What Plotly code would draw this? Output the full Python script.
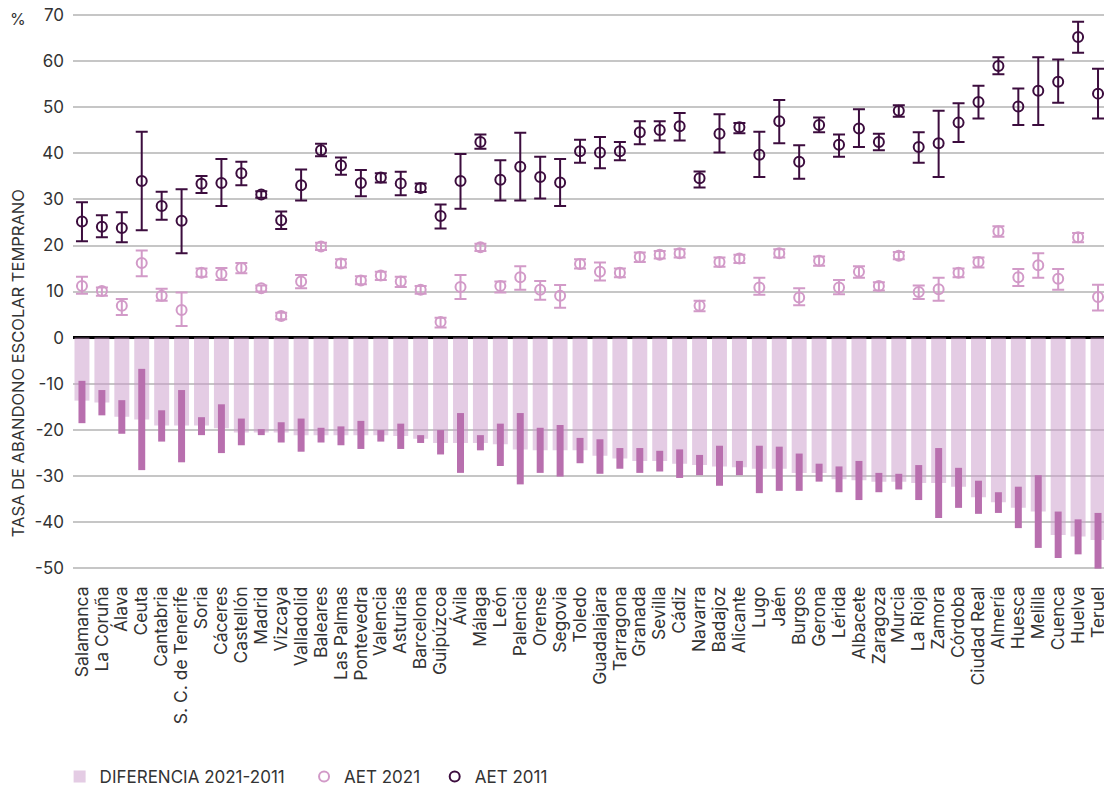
import plotly.graph_objects as go

# Provincias ordenadas por la diferencia 2021-2011
provincias = [
    "Salamanca", "La Coruña", "Álava", "Ceuta", "Cantabria", "S. C. de Tenerife",
    "Soria", "Cáceres", "Castellón", "Madrid", "Vizcaya", "Valladolid", "Baleares",
    "Las Palmas", "Pontevedra", "Valencia", "Asturias", "Barcelona", "Guipúzcoa",
    "Ávila", "Málaga", "León", "Palencia", "Orense", "Segovia", "Toledo",
    "Guadalajara", "Tarragona", "Granada", "Sevilla", "Cádiz", "Navarra", "Badajoz",
    "Alicante", "Lugo", "Jaén", "Burgos", "Gerona", "Lérida", "Albacete", "Zaragoza",
    "Murcia", "La Rioja", "Zamora", "Córdoba", "Ciudad Real", "Almería", "Huesca",
    "Melilla", "Cuenca", "Huelva", "Teruel",
]

# AET 2011 (valor e intervalo)
aet2011 = [25.2, 24.1, 23.8, 34.0, 28.6, 25.4, 33.4, 33.6, 35.7, 31.1, 25.5, 33.1, 40.7,
           37.4, 33.6, 34.8, 33.5, 32.5, 26.4, 34.0, 42.5, 34.3, 37.1, 34.9, 33.7, 40.5,
           40.2, 40.5, 44.6, 45.1, 45.9, 34.6, 44.3, 45.7, 39.7, 47.0, 38.2, 46.2, 41.9,
           45.4, 42.5, 49.3, 41.4, 42.2, 46.7, 51.2, 59.0, 50.2, 53.6, 55.6, 65.3, 53.0]
aet2011_sup = [29.4, 26.6, 27.2, 44.7, 31.7, 32.2, 35.1, 38.8, 38.2, 31.8, 27.4, 36.5, 42.1,
               39.1, 36.4, 35.7, 36.0, 33.5, 28.9, 39.9, 44.1, 38.5, 44.5, 39.3, 38.8, 43.0,
               43.6, 42.5, 47.0, 47.0, 48.8, 36.1, 48.5, 46.6, 44.7, 51.6, 41.8, 47.8, 44.1,
               49.6, 44.3, 50.5, 44.6, 49.3, 50.9, 54.7, 60.9, 54.1, 60.9, 60.4, 68.6, 58.4]
aet2011_inf = [20.9, 21.8, 20.7, 23.3, 25.6, 18.3, 31.4, 28.6, 33.1, 30.4, 23.6, 29.8, 39.4,
               35.4, 30.7, 33.7, 30.9, 31.6, 23.7, 28.0, 41.0, 29.8, 29.8, 30.2, 28.6, 38.0,
               36.8, 38.5, 42.0, 42.8, 42.8, 32.6, 40.2, 44.4, 34.9, 42.2, 34.5, 44.6, 39.3,
               41.4, 40.7, 48.0, 38.0, 34.9, 42.5, 47.6, 57.2, 46.2, 46.2, 51.0, 61.9, 47.6]

# AET 2021 (valor e intervalo)
aet2021 = [11.2, 10.1, 6.9, 16.2, 9.1, 6.0, 14.1, 13.8, 15.1, 10.7, 4.7, 12.2, 19.8,
           16.1, 12.4, 13.5, 12.2, 10.4, 3.4, 11.0, 19.6, 11.2, 13.1, 10.4, 9.1, 16.0,
           14.3, 14.1, 17.5, 18.0, 18.3, 6.9, 16.4, 17.2, 10.9, 18.3, 8.7, 16.7, 10.9,
           14.3, 11.2, 17.8, 9.9, 10.5, 14.1, 16.4, 23.1, 13.1, 15.7, 12.8, 21.8, 8.8]
aet2021_sup = [13.2, 10.9, 8.4, 18.9, 10.6, 9.8, 15.0, 15.1, 16.2, 11.3, 5.4, 13.6, 20.6,
               17.0, 13.3, 14.3, 13.2, 11.2, 4.3, 13.6, 20.4, 12.2, 15.5, 12.3, 11.4, 17.0,
               16.3, 15.0, 18.5, 18.8, 19.2, 8.0, 17.4, 18.0, 13.0, 19.2, 10.7, 17.6, 12.5,
               15.5, 12.0, 18.6, 11.3, 13.0, 15.0, 17.4, 24.2, 14.9, 18.3, 14.9, 22.7, 11.5]
aet2021_inf = [9.5, 9.1, 4.9, 13.3, 8.0, 2.5, 13.2, 12.5, 14.0, 10.0, 4.0, 10.7, 19.0,
               15.2, 11.6, 12.5, 11.0, 9.5, 2.2, 8.4, 18.8, 9.8, 10.4, 8.2, 6.5, 15.0,
               12.4, 13.1, 16.4, 17.2, 17.4, 5.7, 15.4, 16.2, 9.3, 17.4, 7.0, 15.6, 9.4,
               13.0, 10.2, 17.0, 8.4, 8.0, 13.1, 15.2, 21.9, 11.2, 13.0, 10.4, 20.7, 5.9]

# Diferencia 2021-2011 y su intervalo
diferencia = [-13.7, -14.1, -17.2, -17.8, -19.1, -19.1, -19.1, -19.7, -20.6, -20.6, -20.6,
              -21.2, -21.2, -21.2, -21.2, -21.2, -21.4, -22.0, -22.9, -22.9, -22.9, -23.2,
              -24.3, -24.5, -24.5, -24.5, -25.7, -26.3, -26.8, -26.8, -27.4, -27.7, -28.0,
              -28.2, -28.5, -28.5, -29.4, -29.4, -30.8, -31.0, -31.3, -31.3, -31.6, -31.6,
              -32.4, -34.7, -35.8, -37.0, -37.8, -42.9, -43.2, -44.0]
dif_sup = [-9.4, -11.4, -13.6, -6.8, -15.8, -11.4, -17.3, -14.5, -17.6, -19.9, -18.4, -17.6,
           -19.6, -19.3, -18.1, -20.1, -18.7, -21.2, -20.1, -16.4, -21.2, -18.7, -16.4, -19.6,
           -19.0, -21.8, -22.1, -24.0, -24.0, -24.6, -24.3, -25.5, -23.5, -26.8, -23.5, -23.7,
           -25.2, -27.4, -28.0, -26.8, -29.4, -29.6, -27.7, -24.0, -28.3, -31.1, -33.6, -32.4,
           -29.9, -37.8, -39.5, -38.1]
dif_inf = [-18.6, -16.9, -20.9, -28.8, -22.6, -27.1, -21.2, -25.1, -23.4, -21.2, -22.8, -24.8,
           -22.8, -23.4, -24.2, -22.6, -24.2, -22.9, -25.4, -29.4, -24.5, -27.9, -31.9, -29.4,
           -30.2, -27.3, -29.6, -28.5, -29.4, -29.1, -30.5, -29.9, -32.2, -29.9, -33.8, -33.3,
           -33.3, -31.3, -33.6, -35.3, -33.6, -33.0, -35.3, -39.2, -37.0, -38.3, -38.1, -41.4,
           -45.7, -47.9, -47.1, -50.2]

ticks_y = list(range(-50, 71, 10))

FUENTE = "Inter"
GRIS_TEXTO = "#333333"
COLOR_2011 = "#3c0d3e"
COLOR_2021 = "#d29ac8"
NBSP = "\u00a0"

fig = go.Figure()

# Barras claras: diferencia
fig.add_trace(go.Bar(
    x=provincias, y=diferencia, width=0.75,
    marker=dict(color="rgba(201,153,201,0.5)", line=dict(width=0)),
    name="DIFERENCIA 2021-2011" + NBSP * 3,
))

# Barras oscuras: intervalo de la diferencia
fig.add_trace(go.Bar(
    x=provincias, base=dif_sup,
    y=[i - s for i, s in zip(dif_inf, dif_sup)], width=0.35,
    marker=dict(color="#b86fae", line=dict(width=0)),
    showlegend=False, hoverinfo="skip",
))

fig.add_trace(go.Scatter(
    x=provincias, y=aet2021, mode="markers", name="AET 2021" + NBSP * 2,
    marker=dict(symbol="circle-open", size=10, color=COLOR_2021, line=dict(width=2)),
    error_y=dict(type="data", symmetric=False,
                 array=[s - v for s, v in zip(aet2021_sup, aet2021)],
                 arrayminus=[v - i for v, i in zip(aet2021, aet2021_inf)],
                 color=COLOR_2021, thickness=2, width=6),
))

fig.add_trace(go.Scatter(
    x=provincias, y=aet2011, mode="markers", name="AET 2011",
    marker=dict(symbol="circle-open", size=10, color=COLOR_2011, line=dict(width=2)),
    error_y=dict(type="data", symmetric=False,
                 array=[s - v for s, v in zip(aet2011_sup, aet2011)],
                 arrayminus=[v - i for v, i in zip(aet2011, aet2011_inf)],
                 color=COLOR_2011, thickness=2, width=6),
))

fig.update_layout(
    width=1104, height=786,
    margin=dict(l=73, r=0, t=14, b=216, autoexpand=False),
    paper_bgcolor="white", plot_bgcolor="white",
    barmode="overlay",
    font=dict(family=FUENTE, size=17, color=GRIS_TEXTO),
    legend=dict(orientation="h", xref="container", yref="container",
                x=0.054, xanchor="left", y=0.0115, yanchor="middle",
                font=dict(size=17, color=GRIS_TEXTO), itemwidth=30),
    xaxis=dict(
        range=[-0.45, 51.3], tickangle=-90, showgrid=False, ticks="",
        tickmode="array", tickvals=provincias, ticktext=provincias,
        automargin=False, ticklabelstandoff=12,
        tickfont=dict(size=17.5, color=GRIS_TEXTO),
    ),
    yaxis=dict(
        range=[-50.5, 70.3], tickvals=ticks_y, ticktext=[str(v) for v in ticks_y],
        showgrid=True, gridcolor="#c6c6c6", gridwidth=1.5,
        zeroline=True, zerolinecolor="black", zerolinewidth=2.5,
        ticks="", ticklabelstandoff=8, automargin=False, ticklabeloverflow="allow",
        tickfont=dict(size=17, color=GRIS_TEXTO),
    ),
    annotations=[
        dict(text="%", x=-0.053, y=0.991, xref="paper", yref="paper", showarrow=False,
             xanchor="center", yanchor="middle", font=dict(size=16, color=GRIS_TEXTO)),
        dict(text="TASA DE ABANDONO ESCOLAR TEMPRANO", textangle=-90,
             x=-0.0533, y=0.372, xref="paper", yref="paper", showarrow=False,
             xanchor="center", yanchor="middle", font=dict(size=16.5, color=GRIS_TEXTO)),
    ],
)

# sin el margen por defecto del <body>, la figura ocupa toda la ventana
fig.write_html(
    "out.html",
    config={"displayModeBar": False},
    post_script="document.body.style.margin='0px';document.body.style.overflow='hidden';",
)
